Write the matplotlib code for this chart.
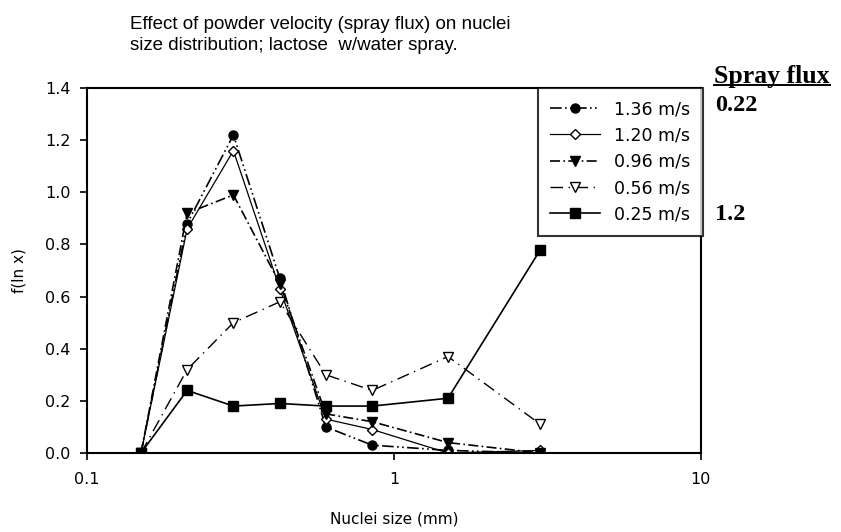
import numpy as np
import matplotlib
matplotlib.use("Agg")
import matplotlib.pyplot as plt

plt.rcParams['font.family'] = ['DejaVu Sans']

# nuclei size (mm)
sizes = [0.15, 0.212, 0.30, 0.425, 0.60, 0.85, 1.5, 3.0]

v136 = [0.0, 0.88, 1.22, 0.67, 0.10, 0.03, 0.01, 0.0]
v120 = [0.0, 0.86, 1.16, 0.63, 0.13, 0.09, 0.0, 0.01]
v096 = [0.0, 0.92, 0.99, 0.65, 0.15, 0.12, 0.04, 0.0]
v056 = [0.0, 0.32, 0.50, 0.58, 0.30, 0.24, 0.37, 0.11]
v025 = [0.0, 0.24, 0.18, 0.19, 0.18, 0.18, 0.21, 0.78]

labels = ['1.36 m/s', '1.20 m/s', '0.96 m/s', '0.56 m/s', '0.25 m/s']
flux_hi = '0.22'
flux_lo = '1.2'

fig = plt.figure(figsize=(8.41, 5.32), dpi=100)
ax = fig.add_axes([0.1034, 0.1485, 0.73, 0.686])

ax.plot(sizes, v136, color='black', lw=1.2, ls=(0, (7, 2, 1, 2, 1, 2)),
        marker='o', ms=6.5, mfc='black', label=labels[0])
ax.plot(sizes, v120, color='black', lw=0.9, ls='-',
        marker='D', ms=5, mfc='white', label=labels[1])
ax.plot(sizes, v096, color='black', lw=1.2, ls=(0, (6, 2, 1, 2)),
        marker='v', ms=7.5, mfc='black', label=labels[2])
ax.plot(sizes, v056, color='black', lw=1.0, ls=(0, (9, 4, 1, 4)),
        marker='v', ms=7.5, mfc='white', label=labels[3])
ax.plot(sizes, v025, color='black', lw=1.2, ls='-',
        marker='s', ms=7, mfc='black', label=labels[4])

ax.set_xscale('log')
ax.set_xlim(0.1, 10)
ax.set_ylim(0, 1.4)
ax.set_xticks([0.1, 1, 10])
ax.set_xticklabels(['0.1', '1', '10'])
ax.xaxis.set_minor_locator(matplotlib.ticker.NullLocator())
ax.set_yticks(np.arange(0, 1.41, 0.2))
ax.set_yticklabels(['%.1f' % t for t in np.arange(0, 1.41, 0.2)])
ax.tick_params(direction='out', length=5, width=1.2, labelsize=11.5)
ax.tick_params(axis='y', pad=7)
ax.tick_params(axis='x', pad=9)
for s in ax.spines.values():
    s.set_linewidth(1.5)

ax.set_xlabel('Nuclei size (mm)', fontsize=11, labelpad=17)
ax.set_ylabel('f(ln x)', fontsize=11, labelpad=13)

leg = ax.legend(loc='upper right', bbox_to_anchor=(1.003, 1.0), fontsize=12.5,
                frameon=True, fancybox=False, borderpad=0.7, labelspacing=0.48,
                handlelength=2.9, handletextpad=0.8, borderaxespad=0)
leg.get_frame().set_edgecolor('black')
leg.get_frame().set_linewidth(1.5)

fig.text(0.155, 0.935, 'Effect of powder velocity (spray flux) on nuclei\n'
         'size distribution; lactose  w/water spray.',
         family='Liberation Sans', fontsize=13.5, ha='left', va='center',
         linespacing=1.3)

serif = dict(family='Liberation Serif', weight='bold', ha='left', va='center')
t = fig.text(0.849, 0.857, 'Spray flux', fontsize=18.5, **serif)
fig.text(0.850, 0.801, flux_hi, fontsize=17.5, **serif)
fig.text(0.850, 0.596, flux_lo, fontsize=17.5, **serif)

# underline the "Spray flux" heading
fig.canvas.draw()
bb = t.get_window_extent().transformed(fig.transFigure.inverted())
fig.add_artist(plt.Line2D([bb.x0, bb.x1], [bb.y0 + 0.004, bb.y0 + 0.004],
                          color='black', lw=1.4, transform=fig.transFigure))

fig.savefig('out.png', dpi=100)
